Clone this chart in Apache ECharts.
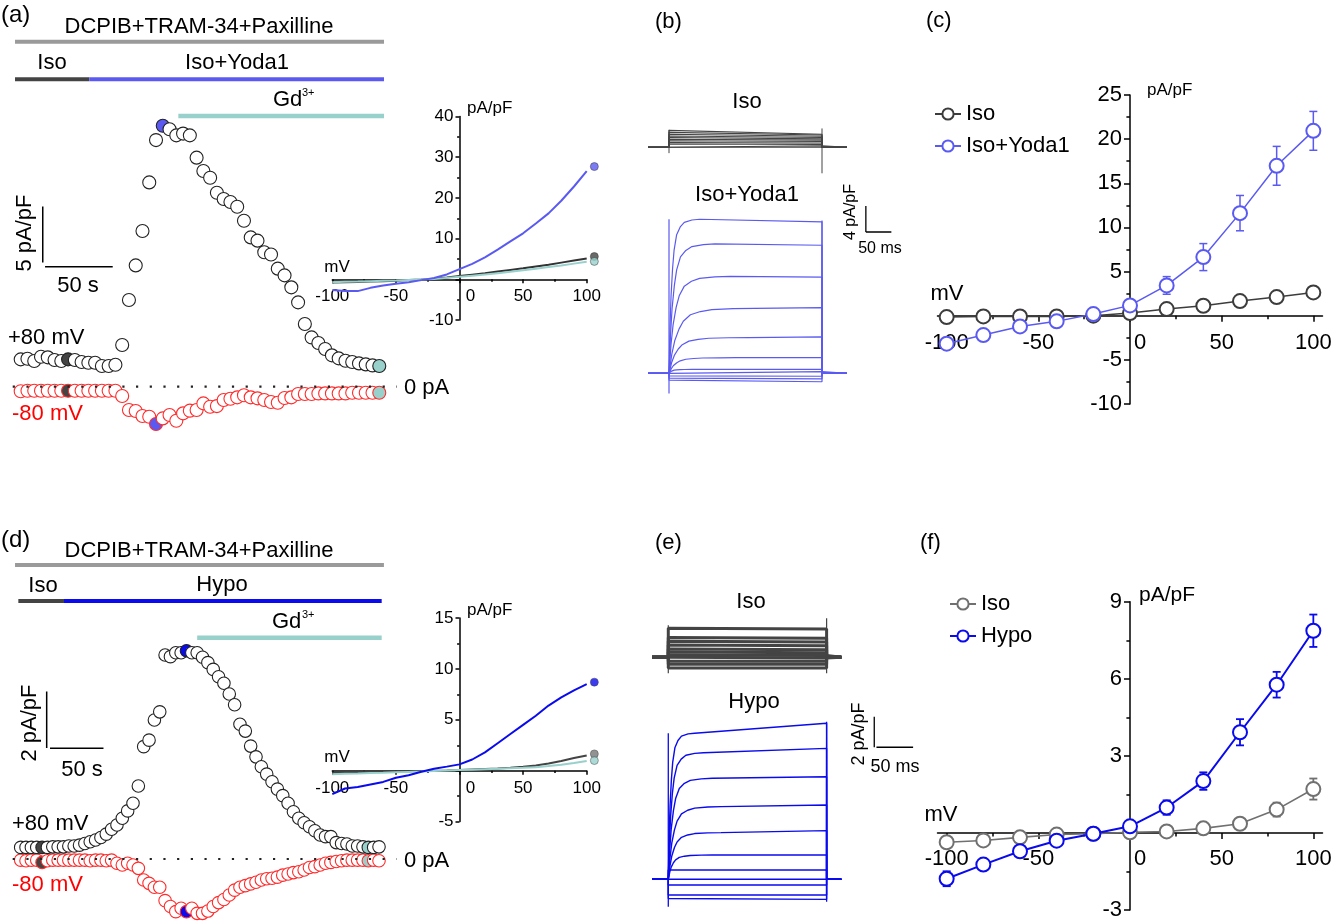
<!DOCTYPE html>
<html>
<head>
<meta charset="utf-8">
<title>Piezo1 / Yoda1 / Hypo currents</title>
<script src="https://cdn.jsdelivr.net/npm/echarts@6.0.0/dist/echarts.min.js"></script>
<style>html,body{margin:0;padding:0;background:#fff;}#chart{width:1333px;height:922px;}</style>
</head>
<body>
<div id="chart"></div>
<script>
// ================= DATA =================
// (a) time course, +80 / -80 mV, sampled every 5 s
const tA = [0,5,10,15,20,25,30,35,40,45,50,55,60,65,70,75,80,85,90,95,100,105,110,115,120,125,130,135,140,145,150,155,160,165,170,175,180,185,190,195,200,205,210,215,220,225,230,235,240,245,250,255,260,265];
const a80 = [2.44,2.5,2.3,2.68,2.62,2.38,2.3,2.44,2.38,2.2,2.14,2.14,1.85,1.85,1.96,3.72,7.74,10.83,13.9,18.24,22.02,23.3,22.98,22.44,22.6,22.44,20.45,19.26,18.66,17.32,16.76,16.49,16.07,14.82,13.33,13.04,12.0,11.8,10.54,9.94,8.87,7.53,5.6,4.4,3.9,3.36,2.8,2.53,2.32,2.2,2.08,1.99,1.9,1.85];
const aM80 = [-0.4,-0.36,-0.36,-0.36,-0.36,-0.36,-0.36,-0.36,-0.36,-0.36,-0.36,-0.36,-0.36,-0.36,-0.36,-0.83,-2.08,-2.17,-2.62,-2.68,-3.33,-2.83,-2.53,-3.04,-2.38,-2.14,-2.08,-1.49,-1.79,-1.73,-1.19,-1.07,-0.95,-0.77,-0.95,-1.04,-1.19,-1.37,-1.43,-1.01,-0.95,-0.65,-0.65,-0.65,-0.6,-0.6,-0.6,-0.6,-0.6,-0.54,-0.54,-0.54,-0.54,-0.54];
const filledA80 = [7, 21, 53];      // Iso, Iso+Yoda1 peak, Gd3+
const filledAM80 = [7, 20, 53];
// (a) protocol intervals (s)
const bathA = [-4.2, 268.5], isoA = [-4.2, 50.7], yodaA = [50.7, 268.5], gdA = [116.5, 268.5];

// (d) time course
const tD = [0,5,10,15,20,25,30,35,40,45,50,55,60,65,70,75,80,85,90,95,100,105,110,115,120,125,130,135,140,145,150,155,160,165,170,175,180,185,190,195,200,205,210,215,220,225,230,235,240,245,250,255,260,265,270,275,280,285,290,295,300,305,310,315,320,325,330,335];
const d80 = [0.41,0.41,0.41,0.41,0.41,0.41,0.43,0.43,0.43,0.46,0.46,0.49,0.55,0.61,0.67,0.76,0.88,1.05,1.2,1.44,1.7,1.97,2.58,3.97,4.2,4.91,5.2,7.21,7.15,7.29,7.29,7.36,7.29,7.29,7.13,6.94,6.7,6.44,6.21,5.83,5.45,4.76,4.52,3.99,3.61,3.26,3.0,2.73,2.47,2.24,1.97,1.67,1.44,1.28,1.14,1.0,0.85,0.79,0.79,0.58,0.55,0.53,0.46,0.46,0.43,0.41,0.41,0.43];
const dM80 = [-0.04,-0.06,-0.04,-0.04,-0.12,-0.06,-0.04,-0.04,-0.04,-0.04,-0.04,-0.04,-0.04,-0.06,-0.04,-0.04,-0.06,-0.04,-0.15,-0.21,-0.15,-0.21,-0.33,-0.74,-0.86,-1.0,-1.0,-1.47,-1.68,-1.86,-1.74,-1.86,-1.74,-1.92,-1.92,-1.84,-1.68,-1.54,-1.43,-1.27,-1.1,-1.0,-0.94,-0.88,-0.82,-0.74,-0.7,-0.68,-0.64,-0.57,-0.53,-0.48,-0.45,-0.39,-0.3,-0.27,-0.21,-0.15,-0.12,-0.09,-0.06,-0.04,-0.04,-0.04,-0.04,-0.06,-0.04,-0.06];
const filledD = [4, 31, 65];
const bathD = [-5.3, 339.6], isoD = [-2.2, 40.5], hypoD = [40.5, 337.5], gdD = [165, 337.5];

// ramp I-V insets
const vRamp = [-100,-90,-80,-70,-60,-50,-40,-30,-20,-10,0,10,20,30,40,50,60,70,80,90,100];
const aRampIso  = [-0.8,-0.75,-0.65,-0.55,-0.45,-0.35,-0.2,-0.05,0.15,0.45,0.8,1.15,1.5,1.9,2.3,2.7,3.15,3.6,4.1,4.6,5.1];
const aRampGd   = [-0.7,-0.62,-0.55,-0.45,-0.35,-0.28,-0.15,-0.05,0.1,0.35,0.6,0.9,1.2,1.5,1.85,2.2,2.6,3.0,3.4,3.85,4.3];
const aRampYoda = [-2.6,-2.9,-2.9,-2.1,-1.55,-1.1,-0.7,-0.2,0.3,1.2,2.5,3.8,5.4,7.3,9.3,11.3,13.7,16.2,19.3,22.8,26.6];
const aDotV = [5.6, 4.4, 27.7];   // Iso, Gd3+, Iso+Yoda1 markers
const dRampIso  = [-0.2,-0.18,-0.15,-0.12,-0.1,-0.08,-0.05,-0.02,0,0.03,0.07,0.12,0.17,0.22,0.3,0.4,0.52,0.7,0.95,1.25,1.5];
const dRampGd   = [-0.35,-0.3,-0.27,-0.23,-0.2,-0.16,-0.12,-0.08,-0.03,0.02,0.06,0.1,0.14,0.18,0.23,0.28,0.35,0.45,0.58,0.75,0.95];
const dRampHypo = [-2.3,-1.75,-1.6,-1.35,-1.1,-0.7,-0.45,-0.1,0.2,0.4,0.62,1.1,1.8,2.7,3.6,4.5,5.4,6.4,7.2,7.9,8.5];
const dDotV = [1.65, 1.0, 8.7];
const dotX = 106;

// step-protocol current traces (pA/pF)
const shapeT = [0,2,4,7,10,15,22,30,45,60];
const shapeF = [0,0.3,0.5,0.68,0.8,0.9,0.95,0.98,0.995,1];
const bPulse = [-41, 300, 349];           // ms: record start, pulse end, record end
const bIsoStart = [2.6,2.3,2.0,1.75,1.5,1.25,1.0,0.75,0.5,0.3,0.1];
const bIsoEnd   = [2.0,1.9,1.7,1.5,1.3,1.1,0.9,0.65,0.45,0.25,0.05];
const bYodaStart = [23.7,19.9,14.9,10.0,5.5,2.4,0.6,0.25,-0.4,-0.75,-1.05];
const bYodaEnd   = [23.3,19.7,14.8,10.1,5.6,2.4,0.6,0.25,-0.45,-0.85,-1.3];
const bYodaTau   = [1,1.5,2,2.8,2.6,2.2,1,0,0,0,0];
const bIsoOn = [-0.9, 2.7], bIsoOff = [2.9, -4.0];
const bYodaOn = [-3.1, 23.7], bYodaOff = [23.5, -0.5];
const ePulse = [-22, 216, 236];
const eIsoStart = [1.9,1.3,1.05,0.8,0.55,0.35,0.15,-0.05,-0.25,-0.45,-0.7];
const eIsoEnd   = [1.85,1.25,1.0,0.75,0.5,0.3,0.12,-0.05,-0.25,-0.45,-0.7];
const eHypoStart = [9.55,8.27,6.6,4.75,3.05,1.59,0.61,0,-0.37,-1.03,-1.25];
const eHypoEnd   = [10.2,8.56,6.7,4.86,3.18,1.59,0.61,0,-0.37,-1.03,-1.31];
const eHypoTau   = [0.6,0.8,1,1.2,1.2,1,0,0,0,0,0];
const eIsoOn = [-1.05, 2.1], eIsoOff = [2.55, -1.05];
const eHypoOn = [-1.8, 9.55], eHypoOff = [10.3, -1.46];

// mean I-V (c) and (f)
const vIV = [-100,-80,-60,-40,-20,0,20,40,60,80,100];
const cIso     = [-0.15,-0.08,-0.08,-0.08,0,0.3,0.75,1.13,1.66,2.11,2.64];
const cIsoErr  = [0.2,0.2,0.2,0.2,0.15,0.15,0.15,0.2,0.25,0.3,0.5];
const cYoda    = [-3.17,-2.19,-1.21,-0.64,0.19,1.17,3.43,6.64,11.62,16.98,20.94];
const cYodaErr = [0.3,0.2,0.3,0.3,0.2,0.3,1.0,1.53,2.0,2.2,2.2];
const fIso     = [-0.36,-0.29,-0.17,-0.06,-0.03,0.03,0.06,0.18,0.36,0.91,1.71];
const fIsoErr  = [0.1,0.1,0.1,0.1,0.08,0.08,0.08,0.1,0.1,0.27,0.41];
const fHypo    = [-1.78,-1.23,-0.71,-0.30,-0.03,0.26,0.99,2.02,3.92,5.77,7.87];
const fHypoErr = [0.29,0.12,0.12,0.15,0.1,0.1,0.28,0.34,0.51,0.5,0.63];

// axis tick labels
const ivTicks = [-100,-50,0,50,100];
const ivMinor = [-75,-25,25,75];

// ================= STYLE / LAYOUT =================
const F = "'Liberation Sans', Arial, Helvetica, sans-serif";
const COL = {dark:'#3c3c3c', yoda:'#5a5af2', hypo:'#0a0aee', teal:'#98d0cc', red:'#ff2b2b', grey:'#9a9a9a', isoF:'#707070'};
const G = {aT:[0,0], aI:[1,1], bI:[2,2], bY:[3,3], c:[4,4], dT:[6,5], dI:[7,6], eI:[8,7], eH:[9,8], f:[10,9]};

const grids = [
  {left:7.17, top:5.9, width:392.4, height:436.8},
  {left:332.3, top:116.5, width:254.4, height:203.5},
  {left:643.5, top:114.8, width:255, height:65},
  {left:643.5, top:178.3, width:255, height:227.5},
  {left:937.5, top:95, width:385, height:309},
  {left:10.0, top:547.7, width:390.4, height:382.05},
  {left:332.3, top:618.0, width:254.4, height:203.6},
  {left:646.3, top:611.4, width:271.2, height:91.8},
  {left:646.3, top:695.7, width:271.2, height:229.5},
  {left:937.5, top:601.7, width:385, height:308.4}
].map(function (g) { return Object.assign({outerBoundsMode:'none', containLabel:false}, g); });

function ln(g, data, color, width, extra) {
  return Object.assign({type:'line', xAxisIndex:g[0], yAxisIndex:g[1], data:data, symbol:'none', silent:true,
    animation:false, lineStyle:{color:color, width:width}, itemStyle:{color:color}}, extra || {});
}
function pts(g, t, v, ring, filledIdx, fills, size) {
  const data = t.map(function (x, i) {
    const k = filledIdx.indexOf(i);
    return k < 0 ? [x, v[i]] : {value:[x, v[i]], itemStyle:{color:fills[k]}};
  });
  return {type:'scatter', xAxisIndex:g[0], yAxisIndex:g[1], data:data, symbol:'circle', symbolSize:size,
    silent:true, animation:false, itemStyle:{color:'#fff', borderColor:ring, borderWidth:1.1, opacity:1}};
}
function zip(x, y) { return x.map(function (v, i) { return [v, y[i]]; }); }
function traceData(L0, L1, tau, span) {
  const d = [[span[0], 0], [0, 0]];
  if (tau > 0) { for (let k = 1; k < shapeT.length; k++) d.push([shapeT[k] * tau, L0 * shapeF[k]]); }
  else d.push([0, L0]);
  d.push([span[1], L1], [span[1], 0], [span[2], 0]);
  return d;
}
function errSeries(g, x, y, err, color, lw) {
  return {type:'custom', xAxisIndex:g[0], yAxisIndex:g[1], silent:true, animation:false,
    data: x.map(function (v, i) { return [v, y[i] - err[i], y[i] + err[i]]; }),
    encode:{x:0, y:[1,2]},
    renderItem: function (params, api) {
      const p1 = api.coord([api.value(0), api.value(1)]);
      const p2 = api.coord([api.value(0), api.value(2)]);
      const w = 4, st = {stroke:color, lineWidth:lw};
      return {type:'group', children:[
        {type:'line', shape:{x1:p1[0], y1:p1[1], x2:p2[0], y2:p2[1]}, style:st},
        {type:'line', shape:{x1:p1[0]-w, y1:p1[1], x2:p1[0]+w, y2:p1[1]}, style:st},
        {type:'line', shape:{x1:p2[0]-w, y1:p2[1], x2:p2[0]+w, y2:p2[1]}, style:st}]};
    }};
}
function ivSeries(g, name, y, color, size, lw) {
  return {type:'line', name:name, xAxisIndex:g[0], yAxisIndex:g[1], data:zip(vIV, y), symbol:'emptyCircle',
    symbolSize:size, showSymbol:true, silent:true, animation:false,
    itemStyle:{color:color, borderWidth:lw}, lineStyle:{color:color, width:lw}};
}

// ----- axes (crossing at zero via offsets) -----
const lineSt = {color:'#000', width:1.5};
function hidden(g, min, max) { return {gridIndex:g, type:'value', min:min, max:max, show:false}; }
function xZeroOffset(gi, ymin, ymax) { return -grids[gi].height * (0 - ymin) / (ymax - ymin); }
function yZeroOffset(gi, xmin, xmax) { return -grids[gi].width * (0 - xmin) / (xmax - xmin); }
function ivX(g, ymin, ymax, size, margin, shift, min, max, tickLen, custom) {
  const ax = {gridIndex:g, type:'value', min:min, max:max, position:'bottom', offset:xZeroOffset(g, ymin, ymax),
    axisLine:{show:true, onZero:false, lineStyle:lineSt},
    axisTick:{show:true, length:tickLen, lineStyle:lineSt},
    axisLabel:{show:true, fontSize:size, fontFamily:F, color:'#000', margin:margin,
      formatter:function (v) { return v === 0 ? '{z|0}' : String(v); },
      rich:{z:{fontSize:size, fontFamily:F, color:'#000', padding:[0,0,0,shift]}}},
    splitLine:{show:false}};
  if (custom) { ax.axisTick.customValues = ivTicks; ax.axisLabel.customValues = ivTicks; }
  else { ax.interval = 50; ax.minorTick = {show:true, splitNumber:2, length:tickLen * 0.6, lineStyle:lineSt}; }
  return ax;
}
function ivXMinor(g, ymin, ymax, min, max, tickLen) {
  return {gridIndex:g, type:'value', min:min, max:max, position:'bottom', offset:xZeroOffset(g, ymin, ymax),
    axisLine:{show:false, onZero:false},
    axisTick:{show:true, length:tickLen, lineStyle:lineSt, customValues:ivMinor},
    axisLabel:{show:false}, splitLine:{show:false}};
}
function ivY(g, xmin, xmax, min, max, interval, size, margin, tickLen) {
  return {gridIndex:g, type:'value', min:min, max:max, interval:interval, position:'left',
    offset:yZeroOffset(g, xmin, xmax),
    axisLine:{show:true, onZero:false, lineStyle:lineSt},
    axisTick:{show:true, length:tickLen, lineStyle:lineSt},
    minorTick:{show:true, splitNumber:2, length:tickLen * 0.6, lineStyle:lineSt},
    axisLabel:{fontSize:size, fontFamily:F, color:'#000', margin:margin,
      formatter:function (v) { return v === 0 ? '' : String(v); }},
    splitLine:{show:false}, minorSplitLine:{show:false}};
}

const xAxes = [
  hidden(0, -10, 280),
  ivX(1, -10, 40, 17, 9, 22, -100, 100, 4, false),
  hidden(2, -50, 450),
  hidden(3, -50, 450),
  ivX(4, -10, 25, 22, 16, 20, -105, 105, 6, true),
  ivXMinor(4, -10, 25, -105, 105, 3.5),
  hidden(5, -10, 355),
  ivX(6, -5, 15, 17, 9, 22, -100, 100, 4, false),
  hidden(7, -30, 340),
  hidden(8, -30, 340),
  ivX(9, -3, 9, 22, 15, 20, -105, 105, 6, true),
  ivXMinor(9, -3, 9, -105, 105, 3.5)
];
const yAxes = [
  hidden(0, -5, 34),
  ivY(1, -100, 100, -10, 40, 10, 17, 6, 4),
  hidden(2, -5, 5),
  hidden(3, -5, 30),
  ivY(4, -105, 105, -10, 25, 5, 22, 8, 6),
  hidden(5, -2.5, 11),
  ivY(6, -100, 100, -5, 15, 5, 17, 6, 4),
  hidden(7, -3, 3),
  hidden(8, -3, 12),
  ivY(9, -105, 105, -3, 9, 3, 22, 8, 6)
];

// ----- series -----
const S = [];
// (a) protocol bars, zero line, scale bars, points
S.push(ln(G.aT, [[bathA[0], 30.8], [bathA[1], 30.8]], COL.grey, 4));
S.push(ln(G.aT, [[isoA[0], 27.46], [isoA[1], 27.46]], '#444', 4));
S.push(ln(G.aT, [[yodaA[0], 27.46], [yodaA[1], 27.46]], COL.yoda, 4));
S.push(ln(G.aT, [[gdA[0], 24.17], [gdA[1], 24.17]], COL.teal, 4.5));
S.push(ln(G.aT, [[-5.9, 0], [278, 0]], '#222', 2.2, {lineStyle:{color:'#222', width:2.2, type:[2.2, 11.5]}}));
S.push(ln(G.aT, [[16.3, 11.1], [16.3, 16.1]], '#000', 1.5));
S.push(ln(G.aT, [[18, 10.7], [68, 10.7]], '#000', 1.5));
S.push(pts(G.aT, tA, aM80, COL.red, filledAM80, ['#444', COL.yoda, COL.teal], 13));
S.push(pts(G.aT, tA, a80, '#222', filledA80, ['#444', COL.yoda, COL.teal], 13));
// (a) inset
S.push(ln(G.aI, zip(vRamp, aRampIso), '#333', 2));
S.push(ln(G.aI, zip(vRamp, aRampGd), COL.teal, 2));
S.push(ln(G.aI, zip(vRamp, aRampYoda), COL.yoda, 2));
S.push({type:'scatter', xAxisIndex:1, yAxisIndex:1, clip:false, silent:true, animation:false, symbolSize:8,
  data:[{value:[dotX, aDotV[0]], itemStyle:{color:'#444'}}, {value:[dotX, aDotV[1]], itemStyle:{color:COL.teal}},
        {value:[dotX, aDotV[2]], itemStyle:{color:COL.yoda}}], itemStyle:{borderColor:'#333', borderWidth:0.6}});

// (b) traces
for (let i = 0; i < bIsoStart.length; i++) S.push(ln(G.bI, traceData(bIsoStart[i], bIsoEnd[i], 0, bPulse), '#444', 1.1));
S.push(ln(G.bI, [[0, bIsoOn[0]], [0, bIsoOn[1]]], '#444', 1));
S.push(ln(G.bI, [[bPulse[1], bIsoOff[0]], [bPulse[1], bIsoOff[1]]], '#444', 1));
for (let i = 0; i < bYodaStart.length; i++) S.push(ln(G.bY, traceData(bYodaStart[i], bYodaEnd[i], bYodaTau[i], bPulse), COL.yoda, 1.2));
S.push(ln(G.bY, [[0, bYodaOn[0]], [0, bYodaOn[1]]], COL.yoda, 1.2));
S.push(ln(G.bY, [[bPulse[1], bYodaOff[0]], [bPulse[1], bYodaOff[1]]], COL.yoda, 1.2));
S.push(ln(G.bY, [[386, 21.74], [386, 25.74]], '#000', 1.3));
S.push(ln(G.bY, [[386, 21.74], [436, 21.74]], '#000', 1.3));

// (c)
S.push(errSeries(G.c, vIV, cIso, cIsoErr, COL.dark, 1.5));
S.push(errSeries(G.c, vIV, cYoda, cYodaErr, COL.yoda, 1.5));
S.push(ivSeries(G.c, 'Iso', cIso, COL.dark, 14, 1.5));
S.push(ivSeries(G.c, 'Iso+Yoda1', cYoda, COL.yoda, 14, 1.5));

// (d)
S.push(ln(G.dT, [[bathD[0], 10.39], [bathD[1], 10.39]], COL.grey, 4));
S.push(ln(G.dT, [[isoD[0], 9.12], [isoD[1], 9.12]], '#444', 4));
S.push(ln(G.dT, [[hypoD[0], 9.12], [hypoD[1], 9.12]], COL.hypo, 4));
S.push(ln(G.dT, [[gdD[0], 7.82], [gdD[1], 7.82]], COL.teal, 4.5));
S.push(ln(G.dT, [[-7.5, 0], [351.5, 0]], '#222', 2.2, {lineStyle:{color:'#222', width:2.2, type:[2.2, 11.5]}}));
S.push(ln(G.dT, [[24.3, 3.92], [24.3, 5.92]], '#000', 1.5));
S.push(ln(G.dT, [[27.4, 3.91], [77.4, 3.91]], '#000', 1.5));
S.push(pts(G.dT, tD, dM80, COL.red, filledD, ['#444', COL.hypo, COL.teal], 12.5));
S.push(pts(G.dT, tD, d80, '#222', filledD, ['#444', COL.hypo, COL.teal], 12.5));
S.push(ln(G.dI, zip(vRamp, dRampIso), '#444', 2));
S.push(ln(G.dI, zip(vRamp, dRampGd), COL.teal, 2));
S.push(ln(G.dI, zip(vRamp, dRampHypo), COL.hypo, 2));
S.push({type:'scatter', xAxisIndex:7, yAxisIndex:6, clip:false, silent:true, animation:false, symbolSize:8,
  data:[{value:[dotX, dDotV[0]], itemStyle:{color:'#777'}}, {value:[dotX, dDotV[1]], itemStyle:{color:COL.teal}},
        {value:[dotX, dDotV[2]], itemStyle:{color:COL.hypo}}], itemStyle:{borderColor:'#444', borderWidth:0.6}});

// (e) traces
for (let i = 0; i < eIsoStart.length; i++) S.push(ln(G.eI, traceData(eIsoStart[i], eIsoEnd[i], 0, ePulse), '#444', 3));
S.push(ln(G.eI, [[0, eIsoOn[0]], [0, eIsoOn[1]]], '#444', 1.2));
S.push(ln(G.eI, [[ePulse[1], eIsoOff[0]], [ePulse[1], eIsoOff[1]]], '#444', 1.2));
for (let i = 0; i < eHypoStart.length; i++) S.push(ln(G.eH, traceData(eHypoStart[i], eHypoEnd[i], eHypoTau[i], ePulse), COL.hypo, 1.4));
S.push(ln(G.eH, [[0, eHypoOn[0]], [0, eHypoOn[1]]], COL.hypo, 1.3));
S.push(ln(G.eH, [[ePulse[1], eHypoOff[0]], [ePulse[1], eHypoOff[1]]], COL.hypo, 1.3));
S.push(ln(G.eH, [[281, 8.63], [281, 10.63]], '#000', 1.3));
S.push(ln(G.eH, [[284, 8.63], [334, 8.63]], '#000', 1.3));

// (f)
S.push(errSeries(G.f, vIV, fIso, fIsoErr, COL.isoF, 1.8));
S.push(errSeries(G.f, vIV, fHypo, fHypoErr, COL.hypo, 1.8));
S.push(ivSeries(G.f, 'Iso', fIso, COL.isoF, 14, 1.6));
S.push(ivSeries(G.f, 'Hypo', fHypo, COL.hypo, 14, 2));

// ----- text -----
function txt(text, x, y, size, o) {
  o = o || {};
  const al = o.align || 'left';
  return {type:'text', x:x, y:y, rotation:o.rot || 0, silent:true, z:10,
    style:{text:text, fontSize:size, fontFamily:F, fill:o.fill || '#000', textAlign:al, align:al,
      textVerticalAlign:'middle', verticalAlign:'middle'}};
}
const R = Math.PI / 2;
const texts = [
  // (a)
  txt('(a)', 1, 15, 24), txt('DCPIB+TRAM-34+Paxilline', 199, 27, 22, {align:'center'}),
  txt('Iso', 52, 63, 22, {align:'center'}), txt('Iso+Yoda1', 237, 63, 22, {align:'center'}),
  txt('Gd', 273, 100, 22), txt('3+', 302, 93, 11),
  txt('5 pA/pF', 25, 233, 22, {align:'center', rot:R}), txt('50 s', 78, 286, 22, {align:'center'}),
  txt('+80 mV', 8, 338, 22), txt('-80 mV', 12, 414, 22, {fill:'#ff0000'}), txt('0 pA', 404, 388, 22),
  txt('pA/pF', 467, 108, 17), txt('mV', 337, 267, 17, {align:'center'}),
  // (b)
  txt('(b)', 655, 22, 22), txt('Iso', 747, 102, 22, {align:'center'}), txt('Iso+Yoda1', 747, 195, 22, {align:'center'}),
  txt('4 pA/pF', 851, 212, 16, {align:'center', rot:R}), txt('50 ms', 880, 249, 16, {align:'center'}),
  // (c)
  txt('(c)', 926, 21, 22), txt('pA/pF', 1147, 90, 17), txt('mV', 947, 294, 22, {align:'center'}),
  // (d)
  txt('(d)', 1, 540, 24), txt('DCPIB+TRAM-34+Paxilline', 199, 551, 22, {align:'center'}),
  txt('Iso', 43, 586, 22, {align:'center'}), txt('Hypo', 222, 585, 22, {align:'center'}),
  txt('Gd', 272, 622, 22), txt('3+', 302, 615, 11),
  txt('2 pA/pF', 30, 723, 22, {align:'center', rot:R}), txt('50 s', 82, 770, 22, {align:'center'}),
  txt('+80 mV', 12, 824, 22), txt('-80 mV', 12, 885, 22, {fill:'#ff0000'}), txt('0 pA', 404, 861, 22),
  txt('pA/pF', 467, 610, 17), txt('mV', 337, 757, 17, {align:'center'}),
  // (e)
  txt('(e)', 655, 543, 22), txt('Iso', 751, 602, 22, {align:'center'}), txt('Hypo', 754, 702, 22, {align:'center'}),
  txt('2 pA/pF', 859, 734, 18, {align:'center', rot:R}), txt('50 ms', 895, 767, 18, {align:'center'}),
  // (f)
  txt('(f)', 920, 543, 22), txt('pA/pF', 1139, 595, 21), txt('mV', 941, 815, 22, {align:'center'})
];

const option = {
  backgroundColor:'#fff',
  animation:false,
  grid:grids, xAxis:xAxes, yAxis:yAxes, series:S,
  legend:[
    {data:['Iso', 'Iso+Yoda1'], left:929, top:98, orient:'vertical', itemGap:10, itemWidth:26, itemHeight:14,
     selectedMode:false, textStyle:{fontSize:22, fontFamily:F, color:'#000'}},
    {data:[{name:'Iso', itemStyle:{color:COL.isoF, borderColor:COL.isoF}, lineStyle:{color:COL.isoF}}, 'Hypo'],
     left:944, top:588, orient:'vertical', itemGap:10, itemWidth:26, itemHeight:14,
     selectedMode:false, textStyle:{fontSize:22, fontFamily:F, color:'#000'}}
  ],
  graphic:{elements:texts}
};
const chart = echarts.init(document.getElementById('chart'), null, {renderer:'canvas'});
chart.setOption(option);
</script>
</body>
</html>
